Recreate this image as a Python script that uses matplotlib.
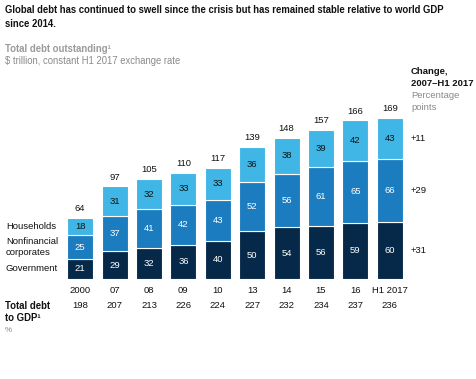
import matplotlib
matplotlib.use("Agg")
import matplotlib.pyplot as plt
import matplotlib.transforms as mtransforms
import numpy as np

plt.rcParams['font.family'] = ['Liberation Sans', 'DejaVu Sans']

years = ["2000", "07", "08", "09", "10", "13", "14", "15", "16", "H1 2017"]
government = [21, 29, 32, 36, 40, 50, 54, 56, 59, 60]
nonfinancial = [25, 37, 41, 42, 43, 52, 56, 61, 65, 66]
households = [18, 31, 32, 33, 33, 36, 38, 39, 42, 43]
totals = [64, 97, 105, 110, 117, 139, 148, 157, 166, 169]
debt_to_gdp = [198, 207, 213, 226, 224, 227, 232, 234, 237, 236]
changes = ["+31", "+29", "+11"]
series_names = ["Government", "Nonfinancial\ncorporates", "Households"]

c_gov = "#06294a"
c_nf = "#1c7cc0"
c_hh = "#3fb6e6"

W, H = 477, 379
fig = plt.figure(figsize=(W / 100, H / 100), dpi=100)

left_px, right_px = 63, 407
bottom_px = 279
ymax = 180
px_per_unit = 0.955
top_px = bottom_px - ymax * px_per_unit
ax = fig.add_axes([left_px / W, 1 - bottom_px / H, (right_px - left_px) / W, (bottom_px - top_px) / H])
ax.set_xlim(-0.5, len(years) - 0.5)
ax.set_ylim(0, ymax)
for s in ax.spines.values():
    s.set_visible(False)
ax.set_yticks([])

x = np.arange(len(years))
bw = 0.76
g = np.array(government)
n = np.array(nonfinancial)
h = np.array(households)
ax.bar(x, g, bw, color=c_gov, edgecolor="white", linewidth=0.8)
ax.bar(x, n, bw, bottom=g, color=c_nf, edgecolor="white", linewidth=0.8)
ax.bar(x, h, bw, bottom=g + n, color=c_hh, edgecolor="white", linewidth=0.8)

fs = 6.8
for i in range(len(years)):
    ax.text(x[i], g[i] / 2, str(g[i]), ha="center", va="center", color="white", fontsize=fs)
    ax.text(x[i], g[i] + n[i] / 2, str(n[i]), ha="center", va="center", color="white", fontsize=fs)
    ax.text(x[i], g[i] + n[i] + h[i] / 2, str(h[i]), ha="center", va="center", color="#111111", fontsize=fs)
    ax.annotate(str(totals[i]), (x[i], g[i] + n[i] + h[i]), xytext=(0, 3.5), textcoords="offset points",
                ha="center", va="bottom", fontsize=fs, color="#111111")

ax.set_xticks(x)
ax.set_xticklabels(years, fontsize=fs, color="#111111")
ax.tick_params(axis="x", length=0, pad=5)

bt = mtransforms.blended_transform_factory(ax.transData, fig.transFigure)
for i, v in enumerate(debt_to_gdp):
    ax.text(x[i], 1 - 306 / H, str(v), transform=bt, ha="center", va="center", fontsize=fs, color="#111111")

mids0 = [g[0] / 2, g[0] + n[0] / 2, g[0] + n[0] + h[0] / 2]
bl = mtransforms.blended_transform_factory(fig.transFigure, ax.transData)
for name, m in zip(series_names, mids0):
    ax.text(6 / W, m, name, transform=bl, ha="left", va="center", fontsize=fs, color="#111111", linespacing=1.2)

mids_last = [g[-1] / 2, g[-1] + n[-1] / 2, g[-1] + n[-1] + h[-1] / 2]
for lab, m in zip(changes, mids_last):
    ax.text(411 / W, m, lab, transform=bl, ha="left", va="center", fontsize=fs, color="#111111")

def ftext(px, py, s, **kw):
    fig.text(px / W, 1 - py / H, s, **kw)

ftext(5, 10, "Global debt has continued to swell since the crisis but has remained stable relative to world GDP",
      fontsize=6.85, fontweight="bold", color="#111111", va="center")
ftext(5, 24, "since 2014.", fontsize=6.85, fontweight="bold", color="#111111", va="center")
ftext(5, 49, "Total debt outstanding\u00b9", fontsize=6.9, fontweight="bold", color="#9a9a9a", va="center")
ftext(5, 61, "$ trillion, constant H1 2017 exchange rate", fontsize=6.85, color="#8a8a8a", va="center")

ftext(411, 72, "Change,", fontsize=fs, fontweight="bold", color="#111111", va="center")
ftext(411, 84, "2007\u2013H1 2017", fontsize=fs, fontweight="bold", color="#111111", va="center")
ftext(411, 96, "Percentage", fontsize=fs, color="#8a8a8a", va="center")
ftext(411, 107, "points", fontsize=fs, color="#8a8a8a", va="center")

ftext(5, 306, "Total debt", fontsize=6.9, fontweight="bold", color="#111111", va="center")
ftext(5, 318, "to GDP\u00b9", fontsize=6.9, fontweight="bold", color="#111111", va="center")
ftext(5, 330, "%", fontsize=5.8, color="#8a8a8a", va="center")

fig.savefig("out.png", dpi=100)
